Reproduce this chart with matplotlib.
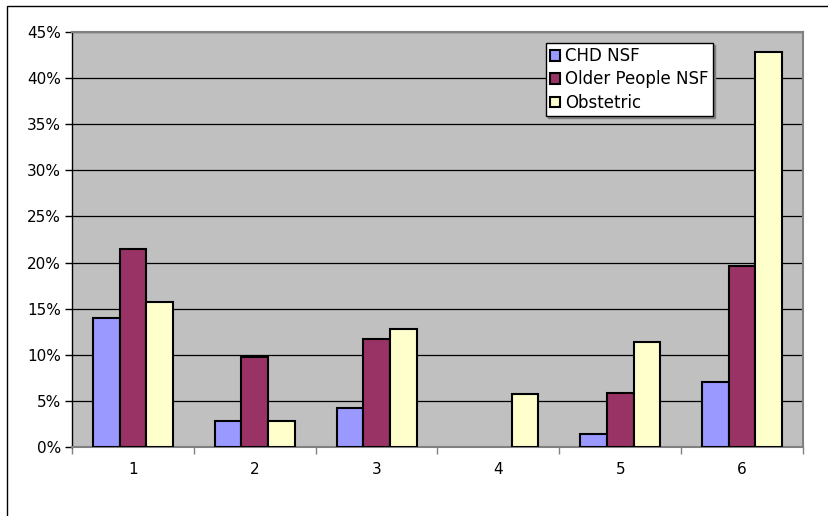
import numpy as np
import matplotlib.pyplot as plt
from matplotlib.patches import Rectangle
from matplotlib.ticker import FixedLocator, PercentFormatter

categories = ["1", "2", "3", "4", "5", "6"]
series_names = ["CHD NSF", "Older People NSF", "Obstetric"]
chd = [14.0, 2.8, 4.2, 0.0, 1.4, 7.0]
older = [21.5, 9.8, 11.7, 0.0, 5.9, 19.6]
obstetric = [15.7, 2.8, 12.8, 5.7, 11.4, 42.8]
colors = ["#9999ff", "#993366", "#ffffcc"]

plt.rcParams["font.family"] = ["DejaVu Sans"]
plt.rcParams["font.size"] = 11

fig = plt.figure(figsize=(8.29, 5.16), dpi=100)
fig.patch.set_facecolor("white")
# outer chart border (only left and top visible in the reference)
fig.patches.append(Rectangle((7 / 829, -0.1), 1.2, 1.1 - 6 / 516, transform=fig.transFigure,
                             fill=False, edgecolor="black", linewidth=1.0))

ax = fig.add_axes([72 / 829, 1 - 447 / 516, (803 - 72) / 829, (447 - 32) / 516])
ax.set_facecolor("#c0c0c0")

x = np.arange(len(categories))
w = 0.219
for i, (vals, name) in enumerate(zip([chd, older, obstetric], series_names)):
    bars = ax.bar(x + (i - 1) * w, vals, width=w, color=colors[i], edgecolor="black",
                  linewidth=1.5, label=name, zorder=3)
    for b, v in zip(bars, vals):
        if v == 0:
            b.set_visible(False)

ax.set_xlim(-0.5, len(categories) - 0.5)
ax.set_ylim(0, 45)
ax.set_yticks(np.arange(0, 46, 5))
ax.yaxis.set_major_formatter(PercentFormatter(decimals=0))
ax.grid(axis="y", color="black", linewidth=0.9, zorder=1)

ax.set_xticks(x)
ax.set_xticklabels(categories)
ax.tick_params(axis="x", which="major", length=0, pad=11)
ax.xaxis.set_minor_locator(FixedLocator(np.arange(-0.5, len(categories), 1.0)))
ax.tick_params(axis="x", which="minor", length=5, color="#808080", width=1)
ax.tick_params(axis="y", length=5, color="black", width=1, pad=3)

for s in ["top", "right", "bottom"]:
    ax.spines[s].set_color("#808080")
    ax.spines[s].set_linewidth(1.5)
ax.spines["left"].set_color("black")
ax.spines["left"].set_linewidth(1.0)

leg = ax.legend(loc="upper left", bbox_to_anchor=((546 - 72) / 731, 1 - (43 - 32) / 415),
                frameon=True, fancybox=False, framealpha=1,
                shadow={"color": "#808080", "alpha": 1, "ox": 1.5, "oy": -1.5},
                edgecolor="black", handlelength=0.6, handleheight=0.6,
                handletextpad=0.3, borderpad=0.25, labelspacing=0.32,
                borderaxespad=0, fontsize=12)
leg.get_frame().set_linewidth(1.0)
for h in leg.legend_handles:
    h.set_linewidth(1.5)

fig.savefig("out.png", dpi=100)
